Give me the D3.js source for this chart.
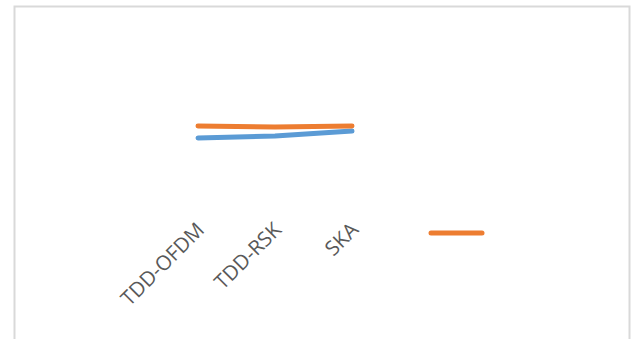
<!DOCTYPE html>
<html>
<head>
<meta charset="utf-8">
<script src="https://cdn.jsdelivr.net/npm/d3@7"></script>
<style>
  html, body { margin: 0; padding: 0; background: #fff; }
  svg { display: block; }
</style>
</head>
<body>
<div id="chart"></div>
<script>
// Categories along the x axis
const categories = ["TDD-OFDM", "TDD-RSK", "SKA"];
// Series values (one per category)
const seriesBlue = [43.3, 44.4, 47.2];
const seriesOrange = [50.0, 49.4, 50.0];

const W = 631, H = 339;
const svg = d3.select("#chart").append("svg")
  .attr("width", W).attr("height", H);

// Chart frame
svg.append("rect")
  .attr("x", 14.5).attr("y", 6.5)
  .attr("width", 615).attr("height", 340)
  .attr("fill", "#fff")
  .attr("stroke", "#d9d9d9").attr("stroke-width", 2);

const x = d3.scalePoint().domain(categories).range([198, 352]);
const y = d3.scaleLinear().domain([0, 100]).range([216, 36]);

const line = d3.line()
  .x((d, i) => x(categories[i]))
  .y(d => y(d));

const series = [
  { values: seriesBlue, color: "#5B9BD5" },
  { values: seriesOrange, color: "#ED7D31" }
];

svg.selectAll("path.series")
  .data(series)
  .join("path")
  .attr("class", "series")
  .attr("d", d => line(d.values))
  .attr("fill", "none")
  .attr("stroke", d => d.color)
  .attr("stroke-width", 5)
  .attr("stroke-linecap", "round")
  .attr("stroke-linejoin", "round");

// Category labels, rotated
const xAxis = d3.axisBottom(x).tickSize(0).tickPadding(0);
const gx = svg.append("g").attr("transform", "translate(2,226)").call(xAxis);
gx.select(".domain").remove();
gx.selectAll("text")
  .attr("font-family", "'Open Sans', sans-serif")
  .attr("font-size", 20.5)
  .attr("fill", "#595959")
  .attr("text-anchor", "end")
  .attr("dy", "0.35em")
  .attr("transform", "rotate(-45)");

// Legend symbol
const legend = svg.append("g").attr("transform", "translate(0,233)");
legend.append("line")
  .attr("x1", 431).attr("x2", 482)
  .attr("y1", 0).attr("y2", 0)
  .attr("stroke", series[1].color)
  .attr("stroke-width", 5)
  .attr("stroke-linecap", "round");
</script>
</body>
</html>
